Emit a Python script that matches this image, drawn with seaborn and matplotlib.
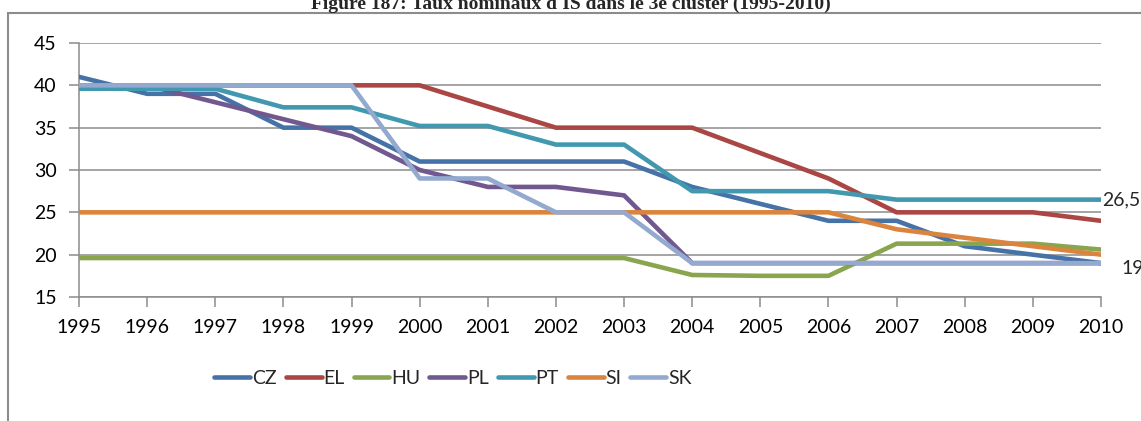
import matplotlib
matplotlib.use("Agg")
import matplotlib.pyplot as plt
from matplotlib.patches import Rectangle
from matplotlib.lines import Line2D
import pandas as pd
import seaborn as sns

years = list(range(1995, 2011))
countries = ["CZ", "EL", "HU", "PL", "PT", "SI", "SK"]

cz = [41, 39, 39, 35, 35, 31, 31, 31, 31, 28, 26, 24, 24, 21, 20, 19]
el = [40, 40, 40, 40, 40, 40, 37.5, 35, 35, 35, 32, 29, 25, 25, 25, 24]
hu = [19.6, 19.6, 19.6, 19.6, 19.6, 19.6, 19.6, 19.6, 19.6, 17.6, 17.5, 17.5, 21.3, 21.3, 21.3, 20.6]
pl = [40, 40, 38, 36, 34, 30, 28, 28, 27, 19, 19, 19, 19, 19, 19, 19]
pt = [39.6, 39.6, 39.6, 37.4, 37.4, 35.2, 35.2, 33, 33, 27.5, 27.5, 27.5, 26.5, 26.5, 26.5, 26.5]
si = [25, 25, 25, 25, 25, 25, 25, 25, 25, 25, 25, 25, 23, 22, 21, 20]
sk = [40, 40, 40, 40, 40, 29, 29, 25, 25, 19, 19, 19, 19, 19, 19, 19]

series = {"CZ": cz, "EL": el, "HU": hu, "PL": pl, "PT": pt, "SI": si, "SK": sk}
colors = ["#4572A7", "#AA4643", "#89A54E", "#71588F", "#4198AF", "#DB843D", "#93A9CF"]

title = "Figure 187: Taux nominaux d'IS dans le 3e cluster (1995-2010)"
y_ticks = [15, 20, 25, 30, 35, 40, 45]

df = pd.DataFrame(
    [(y, c, v) for c in countries for y, v in zip(years, series[c])],
    columns=["year", "country", "rate"],
)

sns.set_theme(style="white")
plt.rcParams["font.family"] = ["Lato", "DejaVu Sans"]

W, H = 1141, 421
fig = plt.figure(figsize=(W / 100, H / 100), dpi=100)
ax = fig.add_axes([79 / W, 1 - 297 / H, (1101 - 79) / W, (297 - 43) / H])

sns.lineplot(
    data=df, x="year", y="rate", hue="country", hue_order=countries,
    palette=colors, linewidth=3.3, ax=ax, legend=False, sort=False,
    solid_capstyle="round", zorder=3,
)

grid_c = "#8c8c8c"
fs = 14
ax.set_xlim(1995, 2010)
ax.set_ylim(15, 45)
ax.set_yticks(y_ticks)
ax.set_xticks(years)
ax.set_xticklabels([str(y) for y in years])
ax.set_xlabel("")
ax.set_ylabel("")
ax.yaxis.grid(True, color=grid_c, linewidth=1.1, zorder=0)
ax.xaxis.grid(False)
for s in ["top", "right"]:
    ax.spines[s].set_visible(False)
for s in ["left", "bottom"]:
    ax.spines[s].set_color(grid_c)
    ax.spines[s].set_linewidth(1.1)
ax.tick_params(axis="both", which="both", direction="out", color=grid_c,
               length=7, width=1.1, labelsize=fs, labelcolor="#000000")
ax.tick_params(axis="y", pad=9, left=True)
ax.tick_params(axis="x", pad=9, bottom=True)

# end-of-series value labels
ax.annotate("26,5", xy=(2010, pt[-1]), xytext=(1, 0), textcoords="offset points",
            va="center", ha="left", fontsize=fs, annotation_clip=False)
ax.annotate("19", xy=(2010, sk[-1]), xytext=(15, -4), textcoords="offset points",
            va="center", ha="left", fontsize=fs, annotation_clip=False)

# legend
handles = [Line2D([0], [0], color=c, lw=3.3, solid_capstyle="round") for c in colors]
fig.legend(handles, countries, loc="center", bbox_to_anchor=(453 / W, 1 - 378 / H),
           ncol=7, frameon=False, fontsize=fs, handlelength=1.85,
           handletextpad=0.1, columnspacing=0.45)

# outer chart frame
fig.add_artist(Rectangle((8 / W, -0.2), 1.2, 1 - 13 / H + 0.2, transform=fig.transFigure,
                         fill=False, edgecolor="#8c8c8c", linewidth=1.5, clip_on=False))

fig.text(0.5, 1 - 9 / H, title, ha="center", va="baseline", fontsize=14,
         fontweight="bold", family="Liberation Serif")

fig.savefig("out.png", dpi=100)
